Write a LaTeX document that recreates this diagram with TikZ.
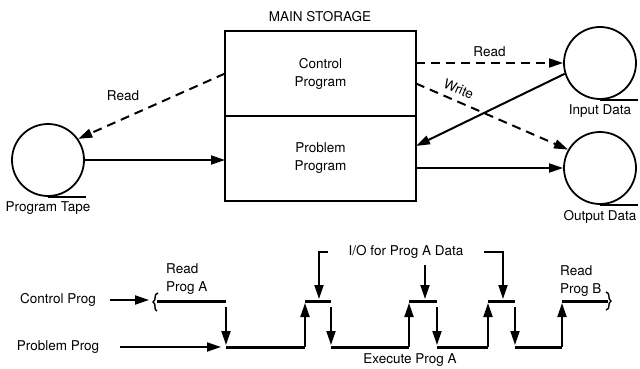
\documentclass[tikz,border=0pt]{standalone}
\usepackage{fontspec}
\setmainfont{TeX Gyre Heros}
\usetikzlibrary{arrows.meta,positioning,calc}

\tikzset{
  txt/.style={font=\fontsize{13.5}{18}\selectfont, align=center, inner sep=1pt},
  store/.style={draw, line width=1.8pt, outer sep=0pt, minimum width=191pt, minimum height=85pt, txt},
  tape/.style={draw, circle, line width=1.8pt, minimum size=72pt, inner sep=0pt},
  flow/.style={line width=2pt, -{Triangle[length=14pt,width=9pt]}},
  rdwr/.style={flow, dash pattern=on 9pt off 6pt},
  bar/.style={line width=3pt},
}

\begin{document}
\begin{tikzpicture}[x=1pt, y=-1pt]
  \useasboundingbox (0,0) rectangle (640,369);

  % Main storage
  \node[txt] (mstlbl) at (320,17) {MAIN STORAGE};
  \node[store] (ctrl) at (320.5,73.5) {Control\\Program};
  \node[store, below=0pt of ctrl] (prob) {Problem\\Program};

  % Tapes
  \node[tape] (ptape) at (48,160) {};
  \node[tape] (indata) at (600,63) {};
  \node[tape] (outdata) at (600,168) {};
  \foreach \t in {ptape, indata, outdata}
    \draw[line width=1.8pt] (\t.south) -- ++(38,0);
  \node[txt, below=4pt of ptape.south] (ptlbl) {Program Tape};
  \node[txt, below=4pt of indata.south] (inlbl) {Input Data};
  \node[txt, below=4pt of outdata.south] (outlbl) {Output Data};

  % Data flow
  \draw[rdwr] (ctrl.west) -- (ptape.35);
  \node[txt] (rdA) at (123,96) {Read};
  \draw[flow] (ptape.east) -- (ptape.east -| prob.west);
  \draw[rdwr] (ctrl.east |- indata.west) -- node[txt, above=4pt] (rdB) {Read} (indata.west);
  \draw[rdwr] ($(ctrl.east)+(0,10)$) -- node[txt, sloped, above=5pt, pos=0.25] (wr) {Write} (outdata.150);
  \draw[flow] (indata.197) -- ($(prob.east)+(0,-12.5)$);
  \draw[flow] (prob.east |- outdata.west) -- (outdata.west);

  % Timing chart
  \node[txt] (cprog) at (58,300) {Control Prog};
  \node[txt] (pprog) at (58,347) {Problem Prog};
  \coordinate (cin) at (149,300);
  \coordinate (pin) at (221,347);
  \draw[flow] (110,300) -- (cin);
  \draw[flow] (120,347) -- (pin);

  % break marks
  \draw[line width=1.4pt] (158,293) .. controls (153,294) and (157,300) .. (153,302)
                                    .. controls (157,304) and (153,310) .. (157,311);
  \draw[line width=1.4pt] (606,292) .. controls (611,293) and (607,299) .. (611,301)
                                    .. controls (607,303) and (611,309) .. (606,310);

  % control / problem bars
  \foreach \a/\b in {157/226, 305/331, 409/437, 488/515, 562/608}
    \draw[bar] (\a,301) -- (\b,301);
  \foreach \a/\b in {226/305, 331/409, 437/488, 515/562}
    \draw[bar] (\a,347) -- (\b,347);
  \foreach \x in {226,331,437,515}
    \draw[flow] (\x,307) -- (\x,345);
  \foreach \x in {305,409,488,562}
    \draw[flow] (\x,347) -- (\x,303);

  \node[txt, align=left, anchor=south west] (rpa) at (165,296) {Read\\Prog A};
  \node[txt, align=left, anchor=south west] (rpb) at (559,298) {Read\\Prog B};
  \node[txt] (exa) at (410,360) {Execute Prog A};

  % I/O bracket
  \node[txt, minimum width=156pt] (io) at (406,252) {I/O for Prog A Data};
  \coordinate (io1) at (319,299);
  \coordinate (io2) at (425,299);
  \coordinate (io3) at (503,299);
  \draw[flow] (io.west) -| (io1);
  \draw[flow] (io2 |- 0,265) -- (io2);
  \draw[flow] (io.east) -| (io3);
\end{tikzpicture}
\end{document}
